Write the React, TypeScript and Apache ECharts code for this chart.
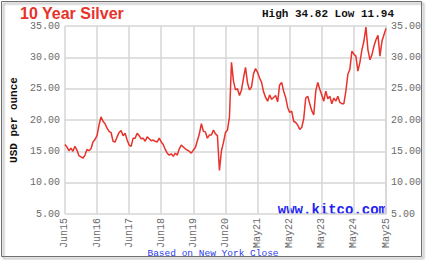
import React, { useEffect, useRef } from "react";
import * as echarts from "echarts";

const xLabels = ["Jun15", "Jun16", "Jun17", "Jun18", "Jun19", "Jun20", "May21", "May22", "May23", "May24", "May25"];
const yTicks = [5, 10, 15, 20, 25, 30, 35];
const pointsPerYear = 16;

const prices2015to2017 = [
  16.1, 15.7, 15.1, 15.5, 15.0, 15.8, 15.2, 14.3, 14.1, 13.9, 14.4, 15.3, 15.1, 15.4, 16.5, 16.9,
  17.5, 19.2, 20.5, 19.8, 19.4, 18.7, 18.2, 18.0, 16.6, 16.5, 17.3, 18.0, 18.3, 17.5, 17.9, 16.8,
];
const prices2017to2019 = [
  16.0, 15.8, 17.1, 17.1, 17.9, 17.5, 17.0, 17.1, 16.6, 17.3, 17.0, 16.7, 16.8, 16.6, 16.5, 17.1,
  16.5, 16.1, 15.3, 14.7, 14.4, 14.6, 14.2, 14.7, 14.4, 15.4, 16.0, 15.7, 15.4, 15.2, 15.0, 14.7,
];
const prices2019to2021 = [
  15.2, 15.6, 16.7, 17.8, 19.4, 18.2, 18.1, 17.1, 17.6, 17.6, 18.4, 17.8, 17.5, 11.94, 15.1, 16.4,
  18.0, 18.4, 20.5, 29.2, 26.2, 24.8, 25.0, 23.9, 24.8, 26.7, 28.4, 25.9, 24.8, 25.3, 27.4, 28.2,
];
const prices2021to2023 = [
  27.6, 26.7, 26.0, 24.5, 23.6, 23.0, 24.0, 23.3, 23.6, 23.9, 22.9, 25.6, 26.0, 24.6, 23.6, 22.0,
  21.2, 21.4, 19.8, 19.6, 19.2, 18.5, 18.8, 20.2, 23.5, 23.8, 22.6, 21.5, 20.8, 24.6, 26.0, 24.9,
];
const prices2023to2025 = [
  24.0, 23.0, 24.6, 23.4, 23.8, 22.6, 23.5, 23.0, 23.8, 22.8, 22.6, 22.6, 24.6, 27.3, 28.1, 31.0,
  30.5, 30.2, 27.8, 29.2, 31.2, 32.6, 34.82, 31.2, 29.6, 30.4, 31.8, 32.8, 33.5, 30.2, 32.6, 33.6,
  34.6,
];

const prices = [
  ...prices2015to2017,
  ...prices2017to2019,
  ...prices2019to2021,
  ...prices2021to2023,
  ...prices2023to2025,
];

const MONO = "Liberation Mono";

export default function App() {
  const ref = useRef<HTMLDivElement>(null);
  useEffect(() => {
    document.body.style.margin = "0";
    const chart = echarts.init(ref.current!, null, { renderer: "svg" });
    const last = (xLabels.length - 1) * pointsPerYear;
    const axisLabelY = {
      color: "#6b6b6b",
      fontFamily: MONO,
      fontSize: 10,
      margin: 5,
      formatter: (v: number) => v.toFixed(2),
    };
    chart.setOption({
      animation: false,
      backgroundColor: "#ffffff",
      grid: { left: 51, right: 41, top: 26, bottom: 46, containLabel: false },
      xAxis: {
        type: "value",
        min: 0,
        max: last,
        interval: pointsPerYear,
        axisLine: { show: false },
        axisTick: { show: false },
        splitLine: { show: true, lineStyle: { color: "#d6d6d6", width: 1.5 } },
        axisLabel: {
          rotate: 90,
          color: "#6b6b6b",
          fontFamily: MONO,
          fontSize: 10,
          margin: 4,
          showMinLabel: true,
          showMaxLabel: true,
          formatter: (v: number) => xLabels[Math.round(v / pointsPerYear)] ?? "",
        },
      },
      yAxis: [
        {
          type: "value",
          min: yTicks[0],
          max: yTicks[yTicks.length - 1],
          interval: 5,
          axisLine: { show: false },
          axisTick: { show: false },
          splitLine: { show: true, lineStyle: { color: "#d6d6d6", width: 1.5 } },
          axisLabel: axisLabelY,
          name: "USD per ounce",
          nameLocation: "middle",
          nameRotate: 90,
          nameGap: 41,
          nameTextStyle: { fontFamily: MONO, fontWeight: "bold", fontSize: 11, color: "#111" },
        },
        {
          type: "value",
          position: "right",
          min: yTicks[0],
          max: yTicks[yTicks.length - 1],
          interval: 5,
          axisLine: { show: true, lineStyle: { color: "#d6d6d6", width: 1.5 } },
          axisTick: { show: false },
          splitLine: { show: false },
          axisLabel: axisLabelY,
        },
      ],
      series: [
        {
          type: "line",
          data: prices.map((p, i) => [i, p]),
          showSymbol: false,
          symbol: "none",
          lineStyle: { color: "#e8322b", width: 1.5 },
          silent: true,
        },
      ],
      graphic: [
        {
          type: "rect",
          shape: { x: 1.5, y: 1.5, width: 420, height: 255 },
          style: {
            fill: "none",
            stroke: "#6f6f6f",
            lineWidth: 1,
            shadowColor: "rgba(0,0,0,0.45)",
            shadowOffsetX: 2,
            shadowOffsetY: 2,
            shadowBlur: 2,
          },
          silent: true,
        },
        {
          type: "text",
          x: 20,
          y: 13,
          style: {
            text: "10 Year Silver",
            fill: "#e8322b",
            font: "bold 16px 'Liberation Sans', Arial, sans-serif",
            verticalAlign: "middle",
          },
        },
        {
          type: "text",
          x: 394,
          y: 14,
          style: {
            text: "High 34.82 Low 11.94",
            fill: "#111",
            font: `bold 11px '${MONO}', monospace`,
            align: "right",
            verticalAlign: "middle",
          },
        },
        {
          type: "text",
          x: 387,
          y: 210,
          style: {
            text: "www.kitco.com",
            fill: "#1f1ff5",
            font: `bold 14px '${MONO}', monospace`,
            align: "right",
            verticalAlign: "middle",
          },
        },
        {
          type: "text",
          x: 213,
          y: 253,
          style: {
            text: "Based on New York Close",
            fill: "#2b3cf0",
            font: `9.5px '${MONO}', monospace`,
            align: "center",
            verticalAlign: "middle",
          },
        },
      ],
    });
    return () => chart.dispose();
  }, []);
  return <div ref={ref} style={{ width: 427, height: 260 }} />;
}
